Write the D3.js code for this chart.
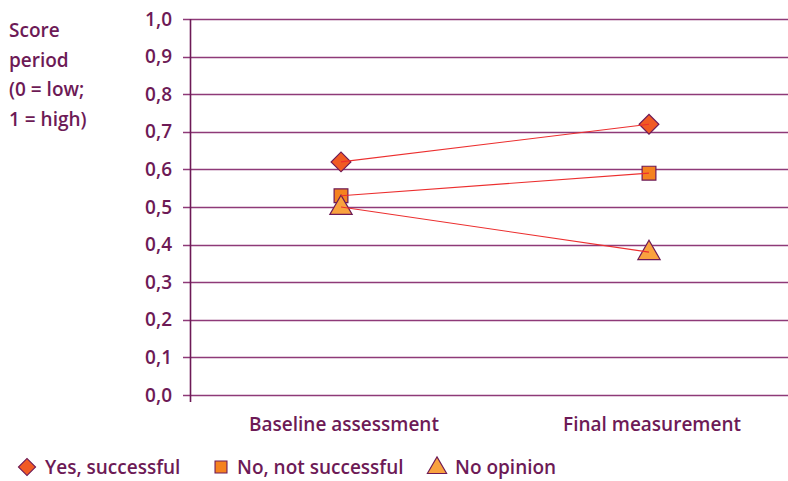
<!DOCTYPE html>
<html>
<head>
<meta charset="utf-8">
<script src="https://cdn.jsdelivr.net/npm/d3@7/dist/d3.min.js"></script>
<style>
  html, body { margin: 0; padding: 0; background: #fff; }
  svg { display: block; }
  text { font-family: "Open Sans", sans-serif; font-weight: 600; fill: #6d1a56; }
</style>
</head>
<body>
<svg id="chart" width="788" height="481"></svg>
<script>
// Measurement moments on the x axis
const periods = ["Baseline assessment", "Final measurement"];

// Scores per answer group
const yesSuccessful = [0.62, 0.72];
const noNotSuccessful = [0.53, 0.59];
const noOpinion = [0.50, 0.38];

const seriesNames = ["Yes, successful", "No, not successful", "No opinion"];

// Y axis tick labels
const yTicks = [0, 0.1, 0.2, 0.3, 0.4, 0.5, 0.6, 0.7, 0.8, 0.9, 1.0];
const yTickLabels = ["0,0", "0,1", "0,2", "0,3", "0,4", "0,5", "0,6", "0,7", "0,8", "0,9", "1,0"];

const titleLines = ["Score", "period", "(0 = low;", "1 = high)"];

// Marker kinds: diamond is a square turned 45 degrees
const series = [
  { name: seriesNames[0], values: yesSuccessful, kind: "diamond", fill: "#f15a24" },
  { name: seriesNames[1], values: noNotSuccessful, kind: "square", fill: "#f5821f" },
  { name: seriesNames[2], values: noOpinion, kind: "triangle", fill: "#f9a23f" }
];

function markerPath(kind, scale) {
  if (kind === "triangle") return d3.symbol().type(d3.symbolTriangle).size(215 * scale)();
  if (kind === "diamond") return d3.symbol().type(d3.symbolSquare).size(195 * scale)();
  return d3.symbol().type(d3.symbolSquare).size(190 * scale)();
}
function markerTransform(kind, cx, cy) {
  if (kind === "diamond") return `translate(${cx},${cy}) rotate(45)`;
  if (kind === "triangle") return `translate(${cx},${cy + 1})`;
  return `translate(${cx},${cy})`;
}

const svg = d3.select("#chart");
const purple = "#6d1a56";
const gridColor = "#8e3a78";
const lineColor = "#ec2f2f";
const fontSize = 19;

const plotLeft = 190, plotRight = 788, plotTop = 19, plotBottom = 395;

const y = d3.scaleLinear().domain([0, 1]).range([plotBottom, plotTop]);
const x = d3.scalePoint().domain(periods).range([187, 803]).padding(0.5);

// Horizontal gridlines
svg.append("g")
  .selectAll("line")
  .data(yTicks)
  .join("line")
  .attr("x1", plotLeft - 7)
  .attr("x2", plotRight)
  .attr("y1", d => Math.round(y(d)) + 0.5)
  .attr("y2", d => Math.round(y(d)) + 0.5)
  .attr("stroke", gridColor)
  .attr("stroke-width", 1.4);

// Vertical axis line
svg.append("line")
  .attr("x1", plotLeft + 0.5).attr("x2", plotLeft + 0.5)
  .attr("y1", y(1)).attr("y2", y(0) + 7)
  .attr("stroke", purple)
  .attr("stroke-width", 1.6);

// Y tick labels
svg.append("g")
  .selectAll("text")
  .data(yTicks)
  .join("text")
  .attr("x", 172)
  .attr("y", d => y(d))
  .attr("dy", "0.35em")
  .attr("text-anchor", "end")
  .attr("font-size", fontSize)
  .text((d, i) => yTickLabels[i]);

// X category labels
svg.append("g")
  .selectAll("text")
  .data(periods)
  .join("text")
  .attr("x", d => x(d) + 3)
  .attr("y", 431)
  .attr("text-anchor", "middle")
  .attr("font-size", fontSize)
  .text(d => d);

// Axis title
svg.append("g")
  .selectAll("text")
  .data(titleLines)
  .join("text")
  .attr("x", 9)
  .attr("y", (d, i) => 37 + i * 29.5)
  .attr("font-size", fontSize)
  .text(d => d);

// Markers
series.forEach(s => {
  svg.append("g")
    .selectAll("path")
    .data(s.values)
    .join("path")
    .attr("transform", (d, i) => markerTransform(s.kind, x(periods[i]), y(d)))
    .attr("d", markerPath(s.kind, 1))
    .attr("fill", s.fill)
    .attr("stroke", purple)
    .attr("stroke-width", 1.2);
});

// Connecting lines drawn over the markers
const line = d3.line().x((d, i) => x(periods[i])).y(d => y(d));
series.forEach(s => {
  svg.append("path")
    .datum(s.values)
    .attr("d", line)
    .attr("fill", "none")
    .attr("stroke", lineColor)
    .attr("stroke-width", 1.1);
});

// Legend
const legendItems = [
  { s: series[0], mx: 27, tx: 45 },
  { s: series[1], mx: 221, tx: 237 },
  { s: series[2], mx: 437, tx: 455 }
];
const legendY = 467;
legendItems.forEach(({ s, mx, tx }) => {
  svg.append("path")
    .attr("transform", markerTransform(s.kind, mx, legendY))
    .attr("d", markerPath(s.kind, 0.75))
    .attr("fill", s.fill)
    .attr("stroke", purple)
    .attr("stroke-width", 1.1);
  svg.append("text")
    .attr("x", tx)
    .attr("y", legendY)
    .attr("dy", "0.35em")
    .attr("font-size", fontSize)
    .text(s.name);
});
</script>
</body>
</html>
